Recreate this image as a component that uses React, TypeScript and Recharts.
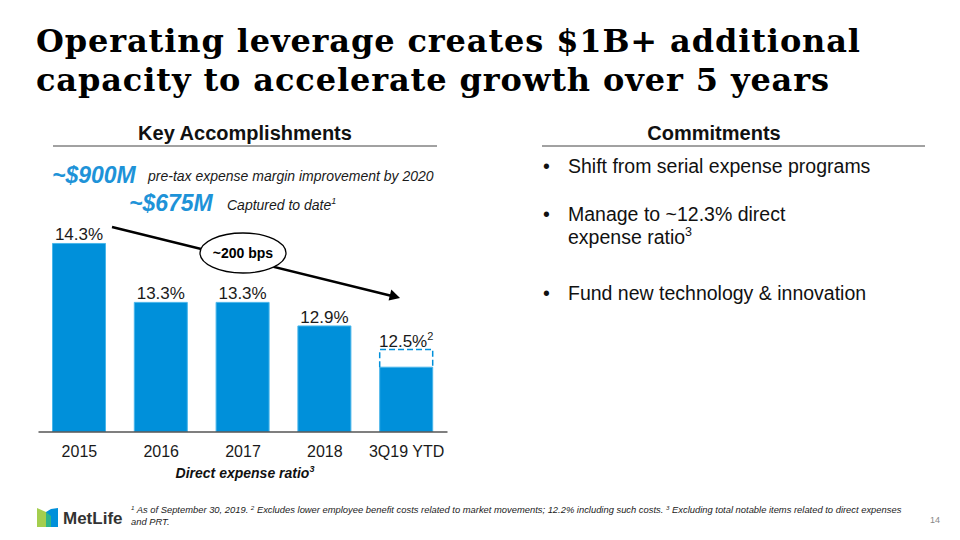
import React from "react";
import { BarChart, Bar, XAxis, YAxis, LabelList } from "recharts";

const categories = ["2015", "2016", "2017", "2018", "3Q19 YTD"];
const ratioReported = [14.3, 13.3, 13.3, 12.9, 12.2];
const excludedBenefit = [0, 0, 0, 0, 0.3];
const valueLabels = ["14.3%", "13.3%", "13.3%", "12.9%", "12.5%"];
const labelNotes = ["", "", "", "", "2"];

const data = categories.map((c, i) => ({
  name: c,
  reported: ratioReported[i],
  excluded: excludedBenefit[i],
  label: valueLabels[i],
  note: labelNotes[i],
}));

const BLUE = "#0090DA";
const SANS = "'Liberation Sans', Arial, sans-serif";
const SERIF = "'DejaVu Serif', Georgia, serif";

const DashedShape = (props: any) => {
  const { x, y, width, height } = props;
  if (!height || height <= 0) return null;
  return (
    <path
      d={`M${x},${y + height} L${x},${y} L${x + width},${y} L${x + width},${y + height}`}
      fill="none"
      stroke={BLUE}
      strokeWidth={1.5}
      strokeDasharray="6 3"
    />
  );
};

const TopLabel = (props: any) => {
  const { x, y, width, index } = props;
  const note = labelNotes[index];
  return (
    <text
      x={x + width / 2}
      y={y - 3}
      textAnchor="middle"
      fontFamily={SANS}
      fontSize={17}
      fill="#1a1a1a"
    >
      {valueLabels[index]}
      {note ? (
        <tspan fontSize={11} dy={-7}>
          {note}
        </tspan>
      ) : null}
    </text>
  );
};

export default function App() {
  return (
    <div
      style={{
        position: "absolute",
        left: 0,
        top: 0,
        width: 960,
        height: 540,
        background: "#fff",
        overflow: "hidden",
      }}
    >
      <div style={{ position: "absolute", left: 0, top: 200 }}>
        <BarChart
          width={480}
          height={290}
          data={data}
          margin={{ top: 14, right: 32.5, bottom: 28, left: 38.5 }}
          barSize={53}
        >
          <XAxis
            dataKey="name"
            tickLine={false}
            tickSize={0}
            tickMargin={14}
            axisLine={{ stroke: "#555", strokeWidth: 1.5 }}
            tick={{ fontFamily: SANS, fontSize: 16, fill: "#1a1a1a" }}
            interval={0}
          />
          <YAxis hide domain={[11.1, 14.8]} allowDataOverflow />
          <Bar
            dataKey="reported"
            stackId="a"
            fill={BLUE}
            stroke="#49b6ea"
            strokeWidth={1}
            isAnimationActive={false}
          />
          <Bar
            dataKey="excluded"
            stackId="a"
            shape={<DashedShape />}
            isAnimationActive={false}
          >
            <LabelList dataKey="label" content={<TopLabel />} />
          </Bar>
        </BarChart>
      </div>

      <svg
        width={960}
        height={540}
        style={{ position: "absolute", left: 0, top: 0, pointerEvents: "none" }}
      >
        {/* Title */}
        <text
          x={36}
          y={52}
          fontFamily={SERIF}
          fontWeight="bold"
          fontSize={32}
          fill="#000"
          textLength={824}
          lengthAdjust="spacing"
        >
          Operating leverage creates $1B+ additional
        </text>
        <text
          x={36}
          y={91}
          fontFamily={SERIF}
          fontWeight="bold"
          fontSize={32}
          fill="#000"
          textLength={793}
          lengthAdjust="spacing"
        >
          capacity to accelerate growth over 5 years
        </text>

        {/* Section headers */}
        <text x={245} y={140} textAnchor="middle" fontFamily={SANS} fontWeight="bold" fontSize={20} fill="#111">
          Key Accomplishments
        </text>
        <line x1={53} y1={146} x2={437} y2={146} stroke="#444" strokeWidth={1} />
        <text x={714} y={140} textAnchor="middle" fontFamily={SANS} fontWeight="bold" fontSize={20} fill="#111">
          Commitments
        </text>
        <line x1={542} y1={146} x2={925} y2={146} stroke="#444" strokeWidth={1} />

        {/* Accomplishment callouts */}
        <text x={52} y={183} fontFamily={SANS} fontWeight="bold" fontStyle="italic" fontSize={23} fill="#1E93D8">
          ~$900M
        </text>
        <text x={148} y={181} fontFamily={SANS} fontStyle="italic" fontSize={14} fill="#1a1a1a">
          pre-tax expense margin improvement by 2020
        </text>
        <text x={129} y={211} fontFamily={SANS} fontWeight="bold" fontStyle="italic" fontSize={23} fill="#1E93D8">
          ~$675M
        </text>
        <text x={227} y={210} fontFamily={SANS} fontStyle="italic" fontSize={14} fill="#1a1a1a">
          Captured to date
          <tspan fontSize={9} dy={-6}>1</tspan>
        </text>

        {/* Arrow annotation */}
        <line x1={112} y1={227} x2={391} y2={295.8} stroke="#000" strokeWidth={2.5} />
        <polygon points="400,298 388.6,300.6 391.3,289.4" fill="#000" />
        <ellipse cx={243} cy={253} rx={43} ry={20} fill="#fff" stroke="#000" strokeWidth={1.3} />
        <text x={243} y={258} textAnchor="middle" fontFamily={SANS} fontWeight="bold" fontSize={14} fill="#000">
          ~200 bps
        </text>

        {/* Axis caption */}
        <text x={245} y={478} textAnchor="middle" fontFamily={SANS} fontWeight="bold" fontStyle="italic" fontSize={14} fill="#111">
          Direct expense ratio
          <tspan fontSize={9} dy={-6}>3</tspan>
        </text>

        {/* Commitments bullets */}
        <g fontFamily={SANS} fontSize={19.5} fill="#111">
          <text x={543} y={173}>•</text>
          <text x={568} y={173}>Shift from serial expense programs</text>
          <text x={543} y={221}>•</text>
          <text x={568} y={221}>Manage to ~12.3% direct</text>
          <text x={568} y={244}>
            expense ratio
            <tspan fontSize={12.5} dy={-8}>3</tspan>
          </text>
          <text x={543} y={300}>•</text>
          <text x={568} y={300}>Fund new technology &amp; innovation</text>
        </g>

        {/* Footer logo */}
        <polygon points="37,508 46,512 46,527 37,527" fill="#A4CE4E" />
        <polygon points="46,512 51,509 58,508 58,527 46,527" fill="#0090DA" />
        <polygon points="46,512 51,516 51,527 46,527" fill="#2DB48A" />
        <text x={63} y={524} fontFamily={SANS} fontWeight="bold" fontSize={17} fill="#333">
          MetLife
        </text>
        <text x={131} y={513} fontFamily={SANS} fontStyle="italic" fontSize={9.4} fill="#222">
          <tspan fontSize={6.2} dy={-3}>1</tspan>
          <tspan dy={3}> As of September 30, 2019. </tspan>
          <tspan fontSize={6.2} dy={-3}>2</tspan>
          <tspan dy={3}> Excludes lower employee benefit costs related to market movements; 12.2% including such costs. </tspan>
          <tspan fontSize={6.2} dy={-3}>3</tspan>
          <tspan dy={3}> Excluding total notable items related to direct expenses</tspan>
        </text>
        <text x={131} y={525} fontFamily={SANS} fontStyle="italic" fontSize={9.4} fill="#222">
          and PRT.
        </text>
        <text x={940} y={523} textAnchor="end" fontFamily={SANS} fontSize={9} fill="#888">
          14
        </text>
      </svg>
    </div>
  );
}
